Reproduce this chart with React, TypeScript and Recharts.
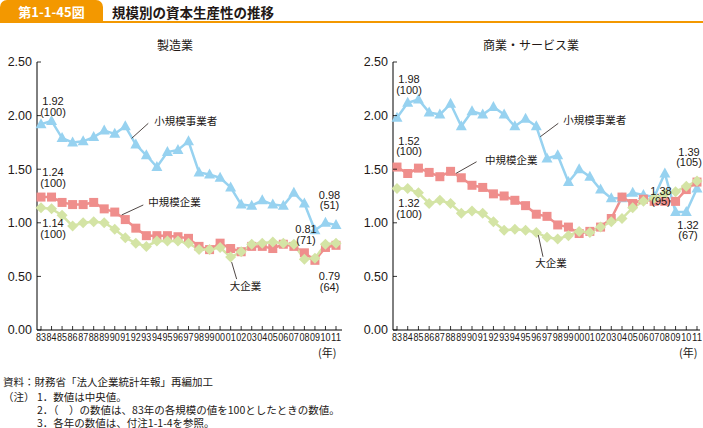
import React from "react";
import { LineChart, Line, XAxis, YAxis, LabelList } from "recharts";

const years = ["83", "84", "85", "86", "87", "88", "89", "90", "91", "92", "93", "94", "95", "96", "97", "98", "99", "00", "01", "02", "03", "04", "05", "06", "07", "08", "09", "10", "11"];

// 製造業
const mfgSmall = [1.92, 1.95, 1.79, 1.75, 1.76, 1.8, 1.86, 1.83, 1.9, 1.73, 1.63, 1.52, 1.66, 1.68, 1.76, 1.47, 1.45, 1.42, 1.33, 1.17, 1.16, 1.21, 1.17, 1.16, 1.28, 1.18, 0.93, 1.0, 0.98];
const mfgMid = [1.24, 1.24, 1.19, 1.17, 1.17, 1.19, 1.13, 1.1, 1.03, 0.95, 0.88, 0.88, 0.88, 0.87, 0.855, 0.78, 0.75, 0.81, 0.76, 0.73, 0.78, 0.78, 0.76, 0.8, 0.78, 0.72, 0.65, 0.77, 0.79];
const mfgLarge = [1.14, 1.13, 1.07, 0.97, 1.0, 1.01, 1.0, 0.94, 0.86, 0.81, 0.78, 0.83, 0.83, 0.83, 0.81, 0.75, 0.75, 0.77, 0.68, 0.73, 0.8, 0.81, 0.82, 0.81, 0.8, 0.66, 0.67, 0.8, 0.81];

// 商業・サービス業
const svcSmall = [1.98, 2.12, 2.15, 2.03, 2.01, 2.11, 1.9, 2.04, 2.01, 2.08, 2.01, 1.9, 1.97, 1.9, 1.6, 1.63, 1.38, 1.5, 1.43, 1.31, 1.23, 1.23, 1.28, 1.26, 1.24, 1.46, 1.1, 1.1, 1.32];
const svcMid = [1.52, 1.46, 1.51, 1.47, 1.43, 1.48, 1.42, 1.35, 1.33, 1.27, 1.25, 1.21, 1.16, 1.08, 1.06, 0.98, 0.96, 0.9, 0.92, 0.96, 1.04, 1.24, 1.18, 1.22, 1.2, 1.2, 1.2, 1.31, 1.38];
const svcLarge = [1.32, 1.32, 1.28, 1.18, 1.21, 1.18, 1.09, 1.11, 1.09, 1.01, 0.93, 0.94, 0.93, 0.91, 0.865, 0.85, 0.88, 0.92, 0.91, 0.96, 1.01, 1.04, 1.14, 1.2, 1.23, 1.27, 1.29, 1.34, 1.39];

const yTicks = [0, 0.5, 1, 1.5, 2, 2.5];

const BLUE = "#97D2F0";
const PINK = "#EF8E8C";
const GREEN = "#D4E4A5";
const INK = "#231815";
const ORANGE = "#F39800";
const JP = '"Noto Sans CJK JP", "Noto Sans", sans-serif';
const NUM = '"Liberation Sans", Arial, sans-serif';

type Note = { index: number; text: string[]; dx: number; dy: number };
type Tag = { index: number; text: string; from: number[]; to: number[]; at: number[] };

const triangle = (p: any) =>
  p.cx == null ? <g key={p.index} /> : (
    <path key={p.index} d={`M${p.cx} ${p.cy - 6}L${p.cx + 5.5} ${p.cy + 4}L${p.cx - 5.5} ${p.cy + 4}Z`} fill={BLUE} />
  );
const square = (p: any) =>
  p.cx == null ? <g key={p.index} /> : <rect key={p.index} x={p.cx - 4.5} y={p.cy - 4.5} width={9} height={9} fill={PINK} />;
const diamond = (p: any) =>
  p.cx == null ? <g key={p.index} /> : (
    <path key={p.index} d={`M${p.cx} ${p.cy - 5.5}L${p.cx + 5.5} ${p.cy}L${p.cx} ${p.cy + 5.5}L${p.cx - 5.5} ${p.cy}Z`} fill={GREEN} />
  );

const annotate = (notes: Note[], tags: Tag[]) => (p: any) => {
  const x = Number(p.x);
  const y = Number(p.y);
  const items: any[] = [];
  notes.filter((n) => n.index === p.index).forEach((n, k) =>
    n.text.forEach((t, j) =>
      items.push(
        <text key={`n${k}${j}`} x={x + n.dx} y={y + n.dy + j * 10.5} dy="0.35em" textAnchor="middle" fontSize={11} fontFamily={NUM} fill={INK}>
          {t}
        </text>
      )
    )
  );
  tags.filter((t) => t.index === p.index).forEach((t, k) => {
    items.push(<line key={`l${k}`} x1={x + t.from[0]} y1={y + t.from[1]} x2={x + t.to[0]} y2={y + t.to[1]} stroke={INK} strokeWidth={0.8} />);
    items.push(
      <text key={`t${k}`} x={x + t.at[0]} y={y + t.at[1]} dy="0.35em" fontSize={10.5} fontFamily={JP} fill={INK}>
        {t.text}
      </text>
    );
  });
  return items.length ? <g>{items}</g> : null;
};

const XTick = (p: any) => (
  <g>
    <line x1={p.x} x2={p.x} y1={p.y} y2={p.y - 4} stroke="#000" strokeWidth={0.8} />
    <text x={p.x} y={p.y + 11} textAnchor="middle" fontSize={10} textLength={10} lengthAdjust="spacingAndGlyphs" fontFamily={NUM} fill={INK}>
      {p.payload.value}
    </text>
  </g>
);

const YTick = (p: any) => (
  <g>
    <line x1={p.x + 5} x2={p.x + 9} y1={p.y} y2={p.y} stroke="#000" strokeWidth={0.8} />
    <text x={p.x} y={p.y} dy="0.35em" textAnchor="end" fontSize={12.5} fontFamily={NUM} fill={INK}>
      {Number(p.payload.value).toFixed(2)}
    </text>
  </g>
);

type PanelProps = {
  left: number;
  width: number;
  yWidth: number;
  padL: number;
  padR: number;
  small: number[];
  mid: number[];
  large: number[];
  notes: { small: Note[]; mid: Note[]; large: Note[] };
  tags: { small: Tag[]; mid: Tag[]; large: Tag[] };
};

function Panel({ left, width, yWidth, padL, padR, small, mid, large, notes, tags }: PanelProps) {
  const data = years.map((year, i) => ({ year, small: small[i], mid: mid[i], large: large[i] }));
  return (
    <div style={{ position: "absolute", left, top: 40 }}>
      <LineChart width={width} height={310} data={data} margin={{ top: 22, right: left > 0 ? 3 : 8, bottom: 0, left: 0 }}>
        <XAxis dataKey="year" interval={0} tickSize={0} tickMargin={0} tick={<XTick />} height={20} padding={{ left: padL, right: padR }} stroke="#000" />
        <YAxis domain={[0, 2.5]} ticks={yTicks} width={yWidth} tickSize={0} tickMargin={5} tick={<YTick />} stroke="#000" />
        <Line dataKey="small" stroke={BLUE} strokeWidth={2.5} dot={triangle} isAnimationActive={false}>
          <LabelList dataKey="small" content={annotate(notes.small, tags.small)} />
        </Line>
        <Line dataKey="mid" stroke={PINK} strokeWidth={2.5} dot={square} isAnimationActive={false}>
          <LabelList dataKey="mid" content={annotate(notes.mid, tags.mid)} />
        </Line>
        <Line dataKey="large" stroke={GREEN} strokeWidth={2.5} dot={diamond} isAnimationActive={false}>
          <LabelList dataKey="large" content={annotate(notes.large, tags.large)} />
        </Line>
      </LineChart>
    </div>
  );
}

const mfgNotes = {
  small: [{ index: 0, text: ["1.92", "(100)"], dx: 12, dy: -23 }, { index: 28, text: ["0.98", "(51)"], dx: -6.5, dy: -30 }],
  mid: [{ index: 0, text: ["1.24", "(100)"], dx: 12, dy: -24.5 }, { index: 28, text: ["0.79", "(64)"], dx: -6.5, dy: 31 }],
  large: [{ index: 0, text: ["1.14", "(100)"], dx: 12, dy: 15.5 }, { index: 28, text: ["0.81", "(71)"], dx: -30, dy: -14 }],
};
const mfgTags = {
  small: [{ index: 8, text: "小規模事業者", from: [6.4, 12], to: [23, -3], at: [29, -5] }],
  mid: [{ index: 8, text: "中規模企業", from: [-3.6, -4.6], to: [18, -14.6], at: [23, -17] }],
  large: [{ index: 18, text: "大企業", from: [1, 5], to: [6, 22], at: [-1, 29.6] }],
};
const svcNotes = {
  small: [{ index: 0, text: ["1.98", "(100)"], dx: 12, dy: -38.4 }, { index: 28, text: ["1.32", "(67)"], dx: -9, dy: 36.5 }],
  mid: [{ index: 0, text: ["1.52", "(100)"], dx: 12, dy: -26 }, { index: 28, text: ["1.38", "(95)"], dx: -36, dy: 8.6 }],
  large: [{ index: 0, text: ["1.32", "(100)"], dx: 12, dy: 15 }, { index: 28, text: ["1.39", "(105)"], dx: -8, dy: -29 }],
};
const svcTags = {
  small: [{ index: 13, text: "小規模事業者", from: [4, 10.4], to: [22, -3], at: [27, -6] }],
  mid: [{ index: 5, text: "中規模企業", from: [5.5, 2], to: [26, -9.6], at: [34.5, -11.3] }],
  large: [{ index: 13, text: "大企業", from: [2, 2.6], to: [6.7, 24.3], at: [-1, 31] }],
};

const abs = (left: number, top: number, extra: React.CSSProperties = {}): React.CSSProperties => ({
  position: "absolute",
  left,
  top,
  whiteSpace: "nowrap",
  lineHeight: "12px",
  fontFamily: JP,
  color: INK,
  ...extra,
});

const note = { fontSize: 10.5, lineHeight: "11px" };

export default function App() {
  return (
    <div style={{ position: "relative", width: 703, height: 428, background: "#fff", overflow: "hidden" }}>
      <style>{`body{margin:0}`}</style>
      <div style={{ position: "absolute", left: 0, top: 0, width: 103, height: 22, background: ORANGE, borderRadius: "7px 7px 0 0" }} />
      <div style={{ position: "absolute", left: 0, top: 21, width: 703, height: 2, background: ORANGE }} />
      <div style={abs(0, 5, { width: 103, textAlign: "center", color: "#fff", fontWeight: 700, fontSize: 13, lineHeight: "14px" })}>第1-1-45図</div>
      <div style={abs(112, 5, { fontWeight: 700, fontSize: 13.5, lineHeight: "14px" })}>規模別の資本生産性の推移</div>

      <div style={abs(0, 39, { width: 350, textAlign: "center", fontSize: 12 })}>製造業</div>
      <div style={abs(380, 39, { width: 302, textAlign: "center", fontSize: 12 })}>商業・サービス業</div>

      <Panel left={0} width={350} yWidth={37} padL={4} padR={6} small={mfgSmall} mid={mfgMid} large={mfgLarge} notes={mfgNotes} tags={mfgTags} />
      <Panel left={355} width={348} yWidth={38} padL={4} padR={3} small={svcSmall} mid={svcMid} large={svcLarge} notes={svcNotes} tags={svcTags} />

      <div style={abs(318, 346, { fontSize: 11 })}>(年)</div>
      <div style={abs(679, 346, { fontSize: 11 })}>(年)</div>

      <div style={abs(3, 376, note)}>資料：財務省「法人企業統計年報」再編加工</div>
      <div style={abs(3, 390.5, note)}>（注）</div>
      <div style={abs(37, 390.5, note)}>1．数値は中央値。</div>
      <div style={abs(37, 403.5, note)}>2．（　）の数値は、83年の各規模の値を100としたときの数値。</div>
      <div style={abs(37, 416.5, note)}>3．各年の数値は、付注1-1-4を参照。</div>
    </div>
  );
}
